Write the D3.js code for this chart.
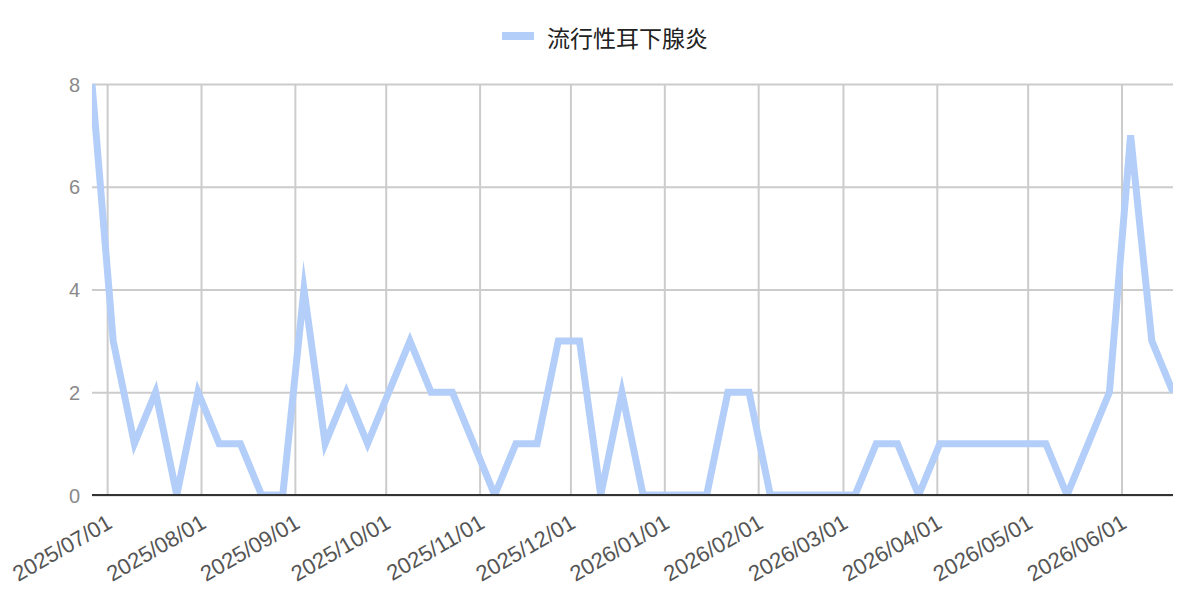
<!DOCTYPE html>
<html>
<head>
<meta charset="utf-8">
<script src="https://cdn.jsdelivr.net/npm/d3@7/dist/d3.min.js"></script>
<style>
body { margin: 0; background: #fff; }
svg { display: block; font-family: "Liberation Sans", Arial, sans-serif; }
</style>
</head>
<body>
<svg id="chart" width="1200" height="614"></svg>
<script>
// data
let seriesName = "流行性耳下腺炎";

let weekDates = [
  "2025-06-26", "2025-07-03", "2025-07-10", "2025-07-17", "2025-07-24", "2025-07-31",
  "2025-08-07", "2025-08-14", "2025-08-21", "2025-08-28",
  "2025-09-04", "2025-09-11", "2025-09-18", "2025-09-25",
  "2025-10-02", "2025-10-09", "2025-10-16", "2025-10-23", "2025-10-30",
  "2025-11-06", "2025-11-13", "2025-11-20", "2025-11-27",
  "2025-12-04", "2025-12-11", "2025-12-18", "2025-12-25",
  "2026-01-01", "2026-01-08", "2026-01-15", "2026-01-22", "2026-01-29",
  "2026-02-05", "2026-02-12", "2026-02-19", "2026-02-26",
  "2026-03-05", "2026-03-12", "2026-03-19", "2026-03-26",
  "2026-04-02", "2026-04-09", "2026-04-16", "2026-04-23", "2026-04-30",
  "2026-05-07", "2026-05-14", "2026-05-21", "2026-05-28",
  "2026-06-04", "2026-06-11", "2026-06-18"
];

let cases = [
  8, 3, 1, 2, 0, 2,
  1, 1, 0, 0,
  4, 1, 2, 1,
  2, 3, 2, 2, 1,
  0, 1, 1, 3,
  3, 0, 2, 0,
  0, 0, 0, 2, 2,
  0, 0, 0, 0,
  0, 1, 1, 0,
  1, 1, 1, 1, 1,
  1, 0, 1, 2,
  7, 3, 2
];

let yTicks = [0, 2, 4, 6, 8];

let monthTicks = [
  "2025-07-01", "2025-08-01", "2025-09-01", "2025-10-01", "2025-11-01", "2025-12-01",
  "2026-01-01", "2026-02-01", "2026-03-01", "2026-04-01", "2026-05-01", "2026-06-01"
];

let lineColor = "#b4cefa";

// set up chart
let svg = d3.select("#chart");
let plot = {left: 92, right: 1173, top: 84, bottom: 495};

let parseDate = d3.timeParse("%Y-%m-%d");
let data = weekDates.map((d, i) => ({date: parseDate(d), value: cases[i]}));

let xScale = d3.scaleTime().
domain(d3.extent(data, d => d.date)).
range([plot.left, plot.right]);

let yScale = d3.scaleLinear().
domain([0, 8]).
range([plot.bottom, plot.top]);

// y gridlines + labels
let yAxis = svg.append("g").
attr("transform", `translate(${plot.left},0)`).
call(d3.axisLeft(yScale).
tickValues(yTicks).
tickSize(-(plot.right - plot.left)).
tickPadding(12));

yAxis.select(".domain").remove();
yAxis.selectAll("line").
attr("stroke", "#cccccc").
attr("stroke-width", 2);
yAxis.selectAll("text").
attr("fill", "#8a8a8a").
attr("font-size", 20).
attr("dy", "0.36em");

// x gridlines + labels
let xAxis = svg.append("g").
attr("transform", `translate(0,${plot.bottom})`).
call(d3.axisBottom(xScale).
tickValues(monthTicks.map(parseDate)).
tickSize(-(plot.bottom - plot.top)).
tickFormat(d3.timeFormat("%Y/%m/%d")));

xAxis.select(".domain").remove();
xAxis.selectAll("line").
attr("stroke", "#cccccc").
attr("stroke-width", 2);
xAxis.selectAll("text").
attr("fill", "#555555").
attr("font-size", 22).
attr("text-anchor", "end").
attr("y", 0).
attr("dy", 0).
attr("transform", "translate(6,32) rotate(-30)");

// clip the series to the plot area
svg.append("clipPath").
attr("id", "plot-clip").
append("rect").
attr("x", plot.left).
attr("y", plot.top - 1).
attr("width", plot.right - plot.left).
attr("height", plot.bottom - plot.top + 2);

let line = d3.line().
x(d => xScale(d.date)).
y(d => yScale(d.value));

svg.append("path").
datum(data).
attr("clip-path", "url(#plot-clip)").
attr("fill", "none").
attr("stroke", lineColor).
attr("stroke-width", 7).
attr("stroke-linejoin", "miter").
attr("stroke-miterlimit", 10).
attr("d", line);

// zero baseline on top
svg.append("line").
attr("x1", plot.left).
attr("x2", plot.right).
attr("y1", yScale(0)).
attr("y2", yScale(0)).
attr("stroke", "#333333").
attr("stroke-width", 2);

// legend
let legend = svg.append("g").
attr("transform", "translate(502,36)");

legend.append("rect").
attr("x", 0).
attr("y", -4).
attr("width", 32).
attr("height", 8).
attr("fill", lineColor);

legend.append("text").
attr("x", 45).
attr("y", 1).
attr("dominant-baseline", "central").
attr("font-family", "'Noto Sans CJK JP', sans-serif").
attr("font-size", 23).
attr("fill", "#222222").
text(seriesName);
</script>
</body>
</html>
